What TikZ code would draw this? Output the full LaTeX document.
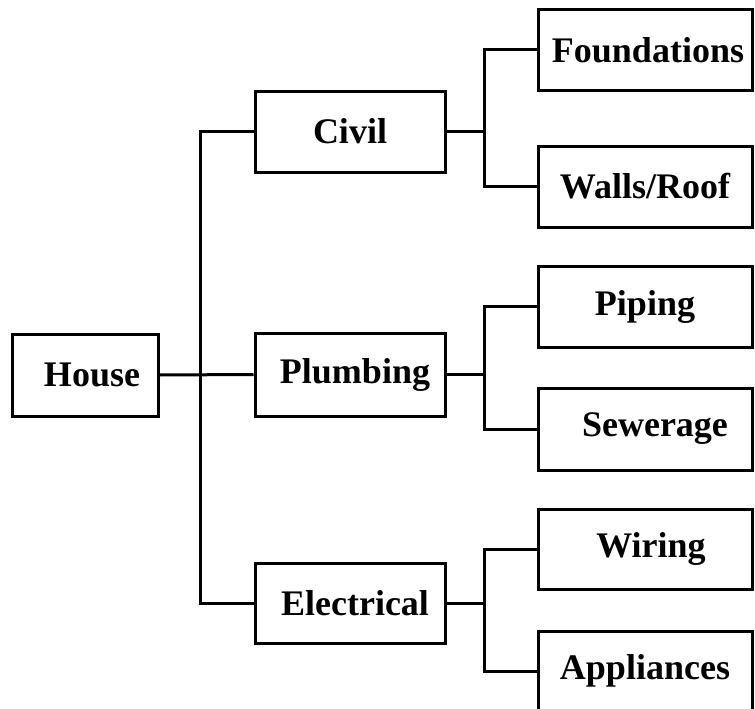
\documentclass[tikz,border=0pt]{standalone}
\usepackage{fontspec}
\setmainfont{Liberation Serif}
\begin{document}
\begin{tikzpicture}[x=1pt,y=-1pt,
  box/.style={draw=black,line width=3pt,inner sep=0pt,anchor=center,
    font=\bfseries\fontsize{36}{40}\selectfont},
  leafbox/.style={box,minimum width=214pt,minimum height=81pt},
  midbox/.style={box,minimum width=190pt,minimum height=81pt},
  wire/.style={draw=black,line width=3pt}]
\useasboundingbox (0,0) rectangle (755,709);
\node[box,minimum width=146pt,minimum height=82pt] (house) at (85,375) {\hspace{14pt}House};
\node[midbox] (civil) at (350,131.5) {Civil};
\node[midbox,minimum height=83pt] (plumb) at (350,374.5) {\hspace{10pt}Plumbing};
\node[midbox,minimum height=80pt] (elec) at (350,603) {\hspace{10pt}Electrical};
\node[leafbox,minimum height=80pt] (found) at (645,50) {\hspace{6pt}Foundations};
\node[leafbox] (walls) at (645,186.5) {Walls/Roof};
\node[leafbox] (pipe) at (645,306.5) {Piping};
\node[leafbox,minimum height=82pt] (sewer) at (645,429) {\hspace{20pt}Sewerage};
\node[leafbox,minimum height=80pt] (wire1) at (645,549) {\hspace{12pt}Wiring};
\node[leafbox,minimum height=80pt] (appl) at (645,671) {Appliances};
% trunk
\draw[wire] (house.east) -- (plumb.west);
\draw[wire] (civil.west) -- ++(-53,0) coordinate (t1) |- (elec.west);
% civil group
\coordinate (b1) at (484,131.5);
\draw[wire] (civil.east) -- (b1);
\draw[wire] (found.west) -| (b1) |- (walls.west);
% plumbing group
\coordinate (b2) at (484,374.5);
\draw[wire] (plumb.east) -- (b2);
\draw[wire] (pipe.west) -| (b2) |- (sewer.west);
% electrical group
\coordinate (b3) at (484,603);
\draw[wire] (elec.east) -- (b3);
\draw[wire] (wire1.west) -| (b3) |- (appl.west);
\end{tikzpicture}
\end{document}
